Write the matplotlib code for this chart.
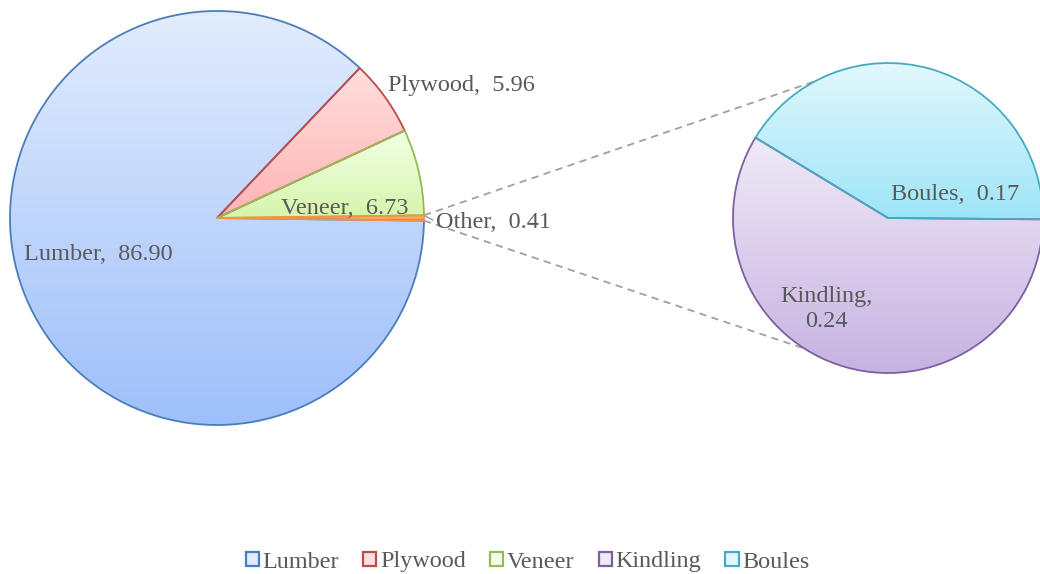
import matplotlib
matplotlib.use("Agg")
import matplotlib.pyplot as plt
from matplotlib.patches import Patch
from matplotlib.colors import to_rgb
import numpy as np

# data
main_labels = ["Lumber", "Plywood", "Veneer", "Other"]
main_values = [86.90, 5.96, 6.73, 0.41]
sub_labels = ["Kindling", "Boules"]
sub_values = [0.24, 0.17]

legend_labels = ["Lumber", "Plywood", "Veneer", "Kindling", "Boules"]

# styles: (top color, bottom color, edge color)
styles = {
    "Lumber": ("#e2ecfd", "#9ebffa", "#4a7ebb"),
    "Plywood": ("#ffdede", "#ffb3b3", "#be4b48"),
    "Veneer": ("#f2ffe4", "#d6f5ac", "#98b954"),
    "Other": ("#fbb97f", "#f79646", "#f69240"),
    "Kindling": ("#f0eaf7", "#c6b2e2", "#7d60a0"),
    "Boules": ("#e2f8fd", "#9ee5f8", "#46aac5"),
}

plt.rcParams['font.family'] = ['Liberation Serif', 'DejaVu Serif']
txt_color = "#595959"

W, H = 1040, 574
fig = plt.figure(figsize=(W / 100, H / 100), dpi=100)
ax = fig.add_axes([0, 0, 1, 1])

c1, r1 = (217, H - 218), 207
c2, r2 = (888, H - 218), 155
other_half = 360 * main_values[3] / sum(main_values) / 2


def gradient_fill(wedges, labels):
    for w, lab in zip(wedges, labels):
        top, bot, edge = styles[lab]
        bb = w.get_path().get_extents()
        n = 256
        t = np.linspace(0, 1, n)[:, None]
        img = (1 - t) * np.array(to_rgb(top)) + t * np.array(to_rgb(bot))
        img = img[:, None, :]
        im = ax.imshow(img, extent=[bb.x0, bb.x1, bb.y0, bb.y1], origin='upper',
                       aspect='auto', zorder=2, interpolation='bilinear')
        im.set_clip_path(w)
        w.set_facecolor('none')
        w.set_edgecolor(edge)
        w.set_linewidth(1.3)
        w.set_zorder(3)


w1, _ = ax.pie(main_values, center=c1, radius=r1, startangle=-other_half,
               counterclock=False, frame=True)
gradient_fill(w1, main_labels)
w2, _ = ax.pie(sub_values, center=c2, radius=r2, startangle=-0.5,
               counterclock=False, frame=True)
gradient_fill(w2, sub_labels)

# connector lines
for a_main, a_sub in [(other_half, 118), (-other_half, 237.5)]:
    x0 = c1[0] + r1 * np.cos(np.radians(a_main))
    y0 = c1[1] + r1 * np.sin(np.radians(a_main))
    x1 = c2[0] + r2 * np.cos(np.radians(a_sub))
    y1 = c2[1] + r2 * np.sin(np.radians(a_sub))
    ax.plot([x0, x1], [y0, y1], ls=(0, (4, 3)), color="#a0a0a0", lw=1.3, zorder=1)

# data labels
fs = 17.5
def lab(x, y, s, ha='left'):
    ax.text(x, H - y, s, ha=ha, va='center', fontsize=fs, color=txt_color, zorder=5)

lab(24, 255, f"{main_labels[0]},  {main_values[0]:.2f}")
lab(388, 85, f"{main_labels[1]},  {main_values[1]:.2f}")
lab(281, 208, f"{main_labels[2]},  {main_values[2]:.2f}")
lab(436, 223, f"{main_labels[3]},  {main_values[3]:.2f}")
lab(891, 195, f"{sub_labels[1]},  {sub_values[1]:.2f}")
ax.text(826, H - 309, f"{sub_labels[0]},\n{sub_values[0]:.2f}", ha='center', va='center',
        fontsize=fs, color=txt_color, zorder=5, linespacing=1.3)
ax.plot([425, 433], [H - 216, H - 220], color="#a0a0a0", lw=1, zorder=4)

handles = [Patch(facecolor=styles[l][0], edgecolor=styles[l][2], lw=1.6) for l in legend_labels]
leg = fig.legend(handles, legend_labels, loc='center', bbox_to_anchor=(527.5 / W, 1 - 562 / H),
                 ncol=5, frameon=False, fontsize=17.4, handlelength=0.55, handleheight=0.55,
                 handletextpad=0.15, columnspacing=1.0)
for t in leg.get_texts():
    t.set_color(txt_color)

ax.set_xlim(0, W)
ax.set_ylim(0, H)
ax.set_aspect('equal')
ax.axis('off')

fig.savefig("out.png", dpi=100)
